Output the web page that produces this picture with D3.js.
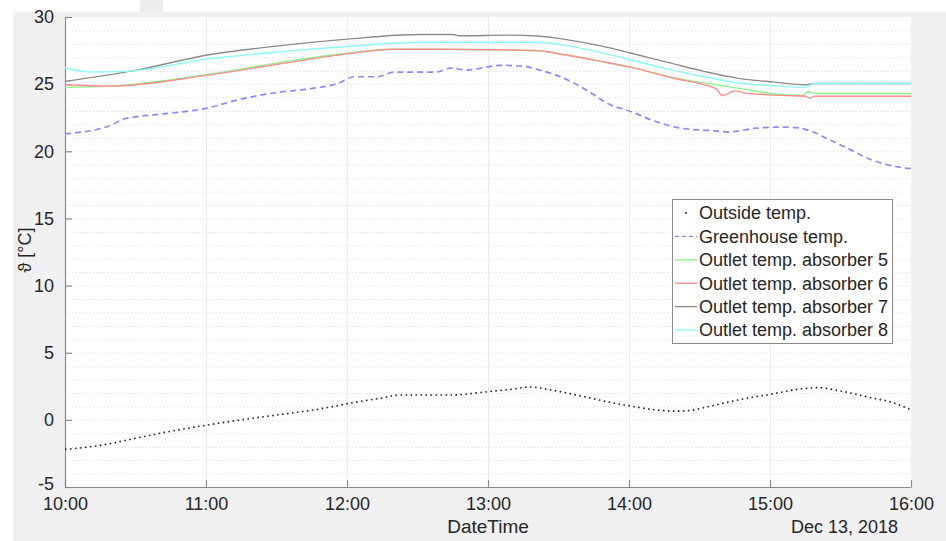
<!DOCTYPE html>
<html>
<head>
<meta charset="utf-8">
<script src="https://cdn.jsdelivr.net/npm/d3@7"></script>
<style>
  body { margin: 0; background: #ffffff; }
  text { font-family: "Liberation Sans", Arial, sans-serif; fill: #262626; }
</style>
</head>
<body>
<div id="chart"></div>
<script>

// times of day (Dec 13, 2018) and temperatures in degC
var outsideTimes = ["10:00","10:15","10:32","10:45","11:00","11:19","11:36","11:53","12:00","12:14","12:23","12:30","12:44","13:00","13:11","13:18","13:26","13:39","13:52","14:00","14:11","14:20","14:26","14:34","14:47","15:00","15:13","15:20","15:30","15:43","15:51","16:00"];
var outsideTemp = [-2.2,-1.9,-1.3,-0.85,-0.4,0.1,0.5,0.95,1.2,1.6,1.85,1.85,1.85,2.1,2.3,2.45,2.25,1.8,1.3,1.05,0.75,0.65,0.7,1.0,1.5,1.9,2.3,2.4,2.15,1.65,1.35,0.75];

var greenhouseTimes = ["10:00","10:19","10:25","10:40","10:53","11:00","11:14","11:29","11:46","11:56","12:03","12:13","12:20","12:38","12:44","12:51","13:02","13:05","13:14","13:23","13:27","13:34","13:43","13:51","14:01","14:10","14:23","14:34","14:43","14:53","15:05","15:12","15:18","15:26","15:35","15:42","15:51","16:00"];
var greenhouseTemp = [21.3,21.9,22.4,22.75,23.0,23.2,23.85,24.35,24.7,25.05,25.55,25.55,25.9,25.9,26.2,26.05,26.35,26.4,26.35,26.0,25.8,25.3,24.45,23.55,22.95,22.3,21.7,21.55,21.45,21.7,21.8,21.75,21.45,20.8,20.05,19.45,18.95,18.7];

var abs5Times = ["10:00","10:19","11:00","11:31","12:00","12:20","12:31","13:09","13:20","13:34","13:48","14:01","14:20","14:37","14:52","15:00","15:14","15:16","15:19","16:00"];
var abs5Temp = [24.75,24.85,25.7,26.6,27.3,27.6,27.6,27.55,27.5,27.15,26.7,26.25,25.45,24.95,24.55,24.3,24.15,24.45,24.3,24.3];

var abs6Times = ["10:00","10:19","11:00","11:31","12:00","12:20","12:31","13:09","13:20","13:34","13:48","14:01","14:20","14:32","14:37","14:40","14:45","14:49","15:00","15:15","15:17","15:19","16:00"];
var abs6Temp = [24.95,24.85,25.65,26.5,27.25,27.6,27.6,27.55,27.5,27.15,26.7,26.25,25.4,24.95,24.65,24.15,24.5,24.35,24.2,24.1,23.95,24.1,24.1];

var abs7Times = ["10:00","10:32","11:00","11:31","12:00","12:31","12:45","12:48","13:09","13:21","13:34","13:48","14:01","14:17","14:32","14:46","15:02","15:15","15:19","16:00"];
var abs7Temp = [25.2,26.1,27.15,27.85,28.35,28.7,28.7,28.6,28.65,28.58,28.3,27.85,27.3,26.6,25.95,25.45,25.15,24.95,25.05,25.05];

var abs8Times = ["10:00","10:11","10:26","11:00","11:31","12:00","12:31","13:23","13:34","13:48","14:01","14:17","14:32","14:46","15:00","15:15","15:18","15:19","16:00"];
var abs8Temp = [26.2,25.9,25.95,26.85,27.4,27.8,28.1,28.1,27.85,27.35,26.8,26.1,25.55,25.1,24.9,24.75,25.0,25.05,25.05];

var xTickLabels = ["10:00","11:00","12:00","13:00","14:00","15:00","16:00"];
var yTicks = [-5,0,5,10,15,20,25,30];

var svg_dx = 946,
    svg_dy = 541,
    plot = {left: 65, right: 911, top: 17, bottom: 487};

var parseTime = d3.timeParse("%Y-%m-%d %H:%M");
function toDate(t) { return parseTime("2018-12-13 " + t); }

var x = d3.scaleTime()
    .domain([toDate("10:00"), toDate("16:00")])
    .range([plot.left, plot.right]);
var y = d3.scaleLinear().domain([-5, 30]).range([plot.bottom, plot.top]);

var svg = d3.select("#chart")
            .append("svg")
            .attr("width", svg_dx)
            .attr("height", svg_dy);

// figure window background plus the strips of other windows behind it
svg.append("rect").attr("x", 0).attr("y", 0).attr("width", svg_dx).attr("height", svg_dy).attr("fill", "#ffffff");
svg.append("rect").attr("x", 13).attr("y", 12).attr("width", svg_dx - 13).attr("height", svg_dy - 12).attr("fill", "#f0f0f0");
svg.append("rect").attr("x", 140).attr("y", 0).attr("width", 23).attr("height", 12).attr("fill", "#ececec");

svg.append("rect")
   .attr("x", plot.left).attr("y", plot.top)
   .attr("width", plot.right - plot.left).attr("height", plot.bottom - plot.top)
   .attr("fill", "#ffffff");

// grid: dotted minor every 1 degC, light major lines
var grid = svg.append("g");
grid.selectAll(".minor")
    .data(d3.range(-4, 30).filter(d => d % 5 != 0))
    .enter().append("line")
    .attr("x1", plot.left).attr("x2", plot.right)
    .attr("y1", d => y(d) + 0.5).attr("y2", d => y(d) + 0.5)
    .style("stroke", "#e2e2e2").style("stroke-dasharray", "1.5,2");
grid.selectAll(".major")
    .data(yTicks.slice(1, -1))
    .enter().append("line")
    .attr("x1", plot.left).attr("x2", plot.right)
    .attr("y1", d => y(d) + 0.5).attr("y2", d => y(d) + 0.5)
    .style("stroke", "#e6e6e6").style("stroke-dasharray", "1.5,1.5");
grid.selectAll(".vmajor")
    .data(xTickLabels.slice(1, -1))
    .enter().append("line")
    .attr("x1", d => x(toDate(d)) + 0.5).attr("x2", d => x(toDate(d)) + 0.5)
    .attr("y1", plot.top).attr("y2", plot.bottom)
    .style("stroke", "#ececec");

// axes
var axis_x = d3.axisBottom(x)
    .tickValues(xTickLabels.map(toDate))
    .tickFormat(d3.timeFormat("%H:%M"))
    .tickSizeInner(-7).tickSizeOuter(0).tickPadding(14);
var axis_y = d3.axisLeft(y)
    .tickValues(yTicks)
    .tickFormat(d => String(d))
    .tickSizeInner(-7).tickSizeOuter(0).tickPadding(11);

var gx = svg.append("g")
   .attr("transform", "translate(0," + plot.bottom + ")")
   .call(axis_x);
var gy = svg.append("g")
   .attr("transform", "translate(" + plot.left + ",0)")
   .call(axis_y);

[gx, gy].forEach(g => {
    g.select(".domain").style("stroke", "#8a8a8a").style("stroke-width", 1.2);
    g.selectAll(".tick line").style("stroke", "#8a8a8a").style("stroke-width", 1.2);
    g.selectAll(".tick text").style("font-size", "18px").style("fill", "#262626");
});
gx.selectAll(".tick text").attr("dy", "0.72em").attr("y", 10);
gy.selectAll(".tick text").filter(d => d == -5).attr("dy", "0.12em");

svg.append("text")
   .attr("x", 488)
   .attr("y", 533)
   .attr("text-anchor", "middle")
   .style("font-size", "19px")
   .text("DateTime");
svg.append("text")
   .attr("x", 898)
   .attr("y", 533)
   .attr("text-anchor", "end")
   .style("font-size", "18px")
   .text("Dec 13, 2018");
svg.append("text")
   .attr("transform", "translate(31,250) rotate(-90)")
   .attr("text-anchor", "middle")
   .style("font-size", "18px")
   .text("\u03D1 [°C]");

// series
var series = [
    {name: "Outside temp.", times: outsideTimes, values: outsideTemp, color: "#222222", dash: "1.6,3.4", width: 1.6},
    {name: "Greenhouse temp.", times: greenhouseTimes, values: greenhouseTemp, color: "#8a8aff", dash: "6,4", width: 1.7},
    {name: "Outlet temp. absorber 5", times: abs5Times, values: abs5Temp, color: "#8cf58c", dash: null, width: 1.4},
    {name: "Outlet temp. absorber 6", times: abs6Times, values: abs6Temp, color: "#ff8c8c", dash: null, width: 1.4},
    {name: "Outlet temp. absorber 7", times: abs7Times, values: abs7Temp, color: "#8c8c8c", dash: null, width: 1.4},
    {name: "Outlet temp. absorber 8", times: abs8Times, values: abs8Temp, color: "#8cfafa", dash: null, width: 1.4}
];

var valueline = d3.line()
    .x(d => x(d.t))
    .y(d => y(d.v))
    .curve(d3.curveMonotoneX);

series.forEach(s => {
    var pts = s.times.map((t, j) => ({t: toDate(t), v: s.values[j]}));
    svg.append("path")
       .datum(pts)
       .attr("d", valueline)
       .style("fill", "none")
       .style("stroke", s.color)
       .style("stroke-width", s.width)
       .style("stroke-dasharray", s.dash);
});

// legend
var legend = svg.append("g").attr("transform", "translate(672,199)");
legend.append("rect")
      .attr("x", 0.5).attr("y", 0.5)
      .attr("width", 220).attr("height", 144)
      .style("fill", "#ffffff")
      .style("stroke", "#8a8a8a");

var rowH = 23.4;
series.forEach((s, i) => {
    var ly = 14 + i * rowH;
    if (i == 0) {
        legend.append("circle").attr("cx", 14).attr("cy", ly).attr("r", 1).style("fill", "#333333");
    } else {
        legend.append("line")
              .attr("x1", 3).attr("x2", 25)
              .attr("y1", ly).attr("y2", ly)
              .style("stroke", s.color)
              .style("stroke-width", 1.4)
              .style("stroke-dasharray", s.dash ? "4,3" : null);
    }
    legend.append("text")
          .attr("x", 27).attr("y", ly)
          .attr("dy", "0.36em")
          .style("font-size", "18px")
          .text(s.name);
});

</script>
</body>
</html>
